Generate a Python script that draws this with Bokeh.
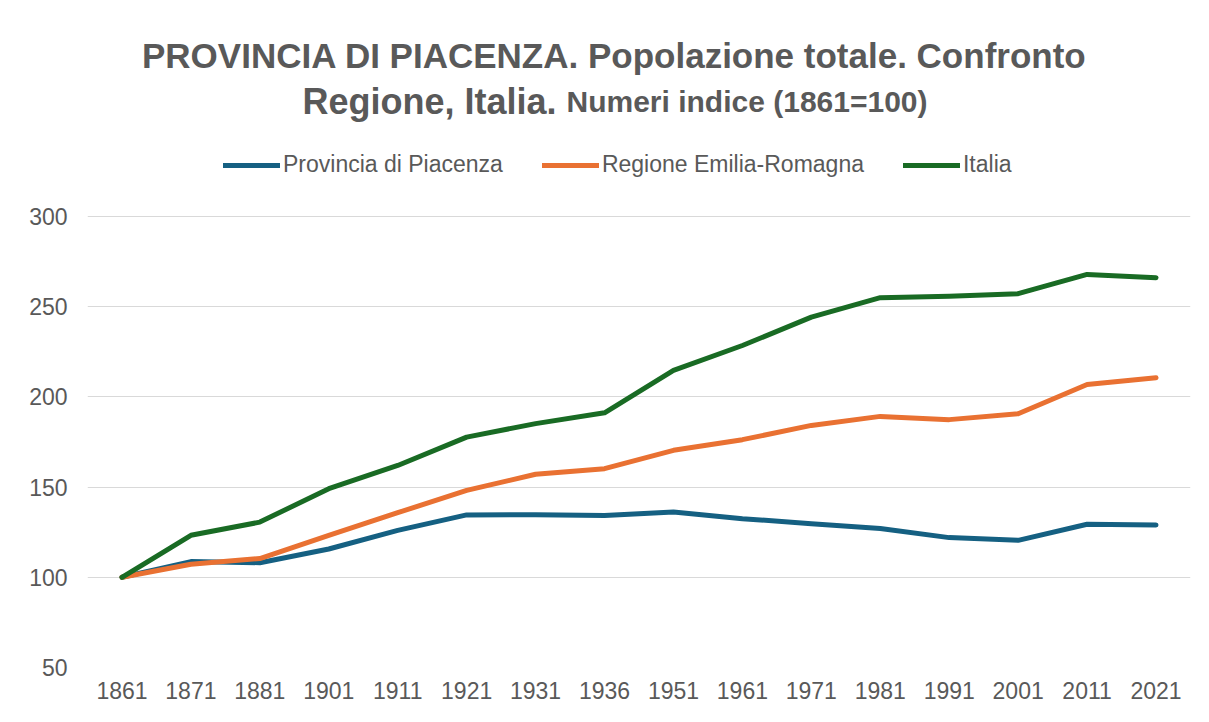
from bokeh.plotting import figure
from bokeh.models import (ColumnDataSource, FactorRange, Range1d, Label, Legend,
                          LegendItem, FixedTicker)
from bokeh.embed import file_html
from bokeh.resources import INLINE

years = ["1861", "1871", "1881", "1901", "1911", "1921", "1931", "1936",
         "1951", "1961", "1971", "1981", "1991", "2001", "2011", "2021"]
piacenza = [100, 108.7, 108.1, 115.7, 126.0, 134.6, 134.7, 134.3,
            136.2, 132.5, 129.7, 127.0, 122.0, 120.5, 129.4, 129.0]
emilia = [100, 107.2, 110.4, 123.3, 135.8, 148.2, 157.1, 160.2,
          170.4, 176.3, 184.2, 189.2, 187.4, 190.7, 206.9, 210.6]
italia = [100, 123.3, 130.6, 149.1, 162.0, 177.7, 185.2, 191.2,
          214.7, 228.5, 244.2, 255.0, 255.8, 257.2, 267.9, 266.1]
series_names = ["Provincia di Piacenza", "Regione Emilia-Romagna", "Italia"]
y_ticks = [50, 100, 150, 200, 250, 300]

title_line1 = "PROVINCIA DI PIACENZA. Popolazione totale. Confronto"
title_line2a = "Regione, Italia."
title_line2b = "Numeri indice (1861=100)"

FONT = "Liberation Sans"
TXT = "#595959"
colors = ["#156082", "#E97132", "#196B24"]

# layout (pixels)
W, H = 1201, 714
LEFT, RIGHT, BOTTOM = 87, 11, 47
FRAME_W = W - LEFT - RIGHT
FRAME_H = H - BOTTOM
PX_PER_UNIT = 451 / 250.0          # 50..300 spans 451 px
Y_TOP = 50 + FRAME_H / PX_PER_UNIT  # extend range so titles sit inside frame


def px_x(px):
    return (px - LEFT) / (FRAME_W / len(years))


def px_y(py):
    return 50 + (FRAME_H - py) / PX_PER_UNIT


source = ColumnDataSource(dict(year=years, piacenza=piacenza, emilia=emilia, italia=italia))

p = figure(width=W, height=H, x_range=FactorRange(*years, range_padding=0),
           y_range=Range1d(50, Y_TOP), output_backend="svg", toolbar_location=None,
           min_border_left=LEFT, min_border_right=RIGHT, min_border_top=0,
           min_border_bottom=BOTTOM)
p.outline_line_color = None
p.background_fill_color = "white"
p.border_fill_color = "white"

renderers = []
for col, c in zip(["piacenza", "emilia", "italia"], colors):
    r = p.line(x="year", y=col, source=source, line_color=c, line_width=5,
               line_cap="round", line_join="round")
    renderers.append(r)

p.xgrid.grid_line_color = None
p.ygrid.grid_line_color = "#d9d9d9"
p.ygrid.grid_line_width = 1
p.yaxis.ticker = FixedTicker(ticks=y_ticks)

for ax in (p.xaxis, p.yaxis):
    ax.axis_line_color = None
    ax.major_tick_line_color = None
    ax.minor_tick_line_color = None
    ax.major_tick_out = 0
    ax.major_tick_in = 0
    ax.major_label_text_font = FONT
    ax.major_label_text_font_size = "23px"
    ax.major_label_text_color = TXT
p.yaxis.major_label_standoff = 20
p.xaxis.major_label_standoff = 14

# Titles inside the (extended) frame
p.add_layout(Label(x=px_x(614), y=px_y(55), text=title_line1,
                   text_align="center", text_baseline="alphabetic", text_font=FONT,
                   text_font_size="35px", text_font_style="bold", text_color=TXT))
p.add_layout(Label(x=px_x(302), y=px_y(101), text=title_line2a,
                   text_align="left", text_baseline="alphabetic", text_font=FONT,
                   text_font_size="36px", text_font_style="bold", text_color=TXT))
p.add_layout(Label(x=px_x(566), y=px_y(101), text=title_line2b,
                   text_align="left", text_baseline="alphabetic", text_font=FONT,
                   text_font_size="30px", text_font_style="bold", text_color=TXT))

legend = Legend(items=[LegendItem(label=n, renderers=[r]) for n, r in zip(series_names, renderers)],
                orientation="horizontal", location=(223 - LEFT, FRAME_H - 178),
                padding=0, margin=0, spacing=39, glyph_width=57, glyph_height=26,
                label_standoff=3, label_height=26,
                label_text_font=FONT, label_text_font_size="23px", label_text_color=TXT,
                border_line_color=None, background_fill_alpha=0)
p.add_layout(legend)

open("out.html", "w").write(file_html(p, INLINE))
